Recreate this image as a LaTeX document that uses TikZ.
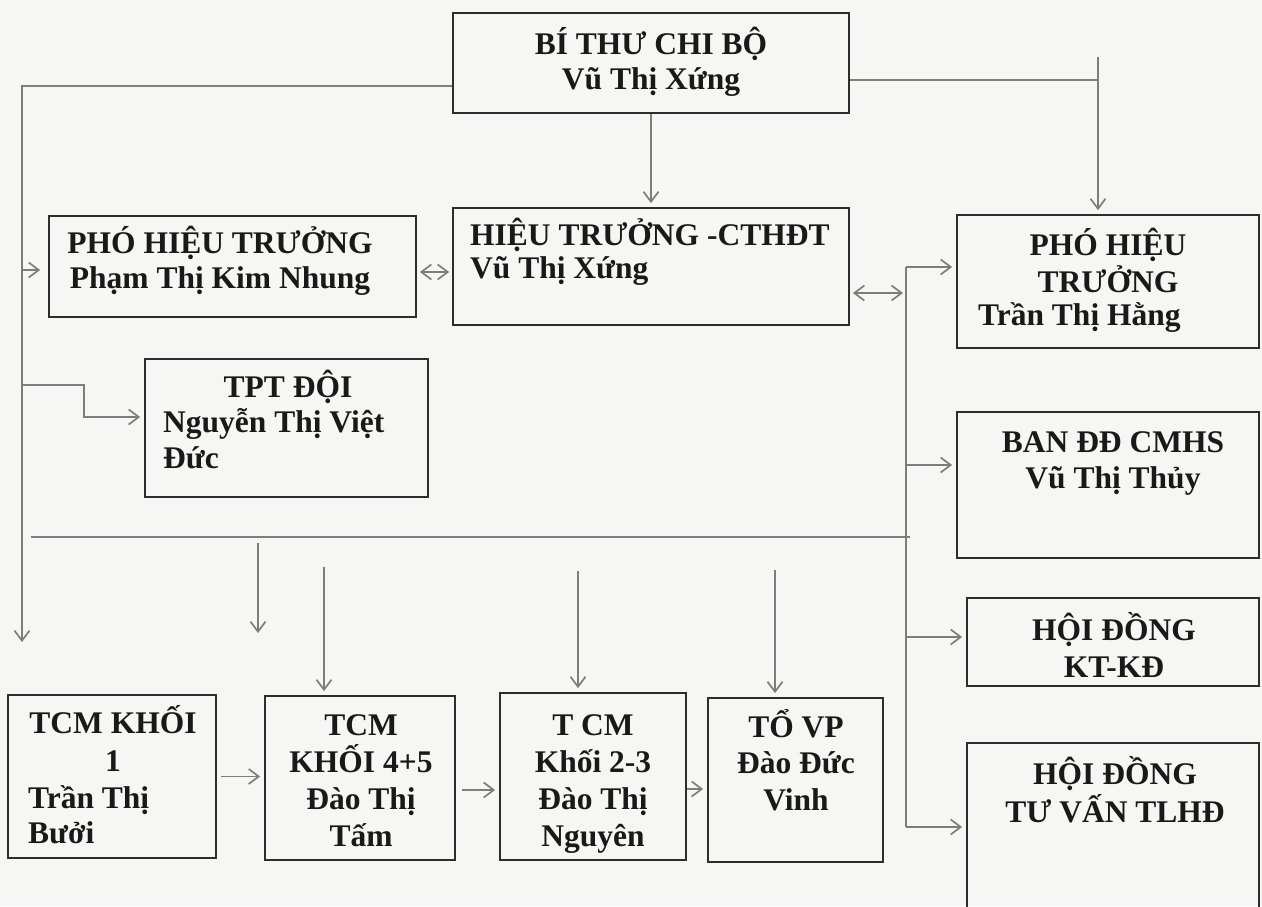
\documentclass[tikz,border=0pt]{standalone}
\usepackage{fontspec}
\setmainfont{Liberation Serif}
\usetikzlibrary{arrows.meta}
\definecolor{bg}{RGB}{246,246,244}
\definecolor{ln}{RGB}{125,125,125}
\definecolor{bx}{RGB}{45,45,45}
\definecolor{tx}{RGB}{25,25,25}
\newcommand{\mystrut}{\rule{0pt}{34pt}}
\newcommand{\nolsk}{\lineskiplimit=-100pt\relax}
\tikzset{
  box/.style={draw=bx, line width=1.8pt, inner sep=0pt},
  txt/.style={font=\bfseries\fontsize{31.5}{#1}\selectfont\nolsk, text=tx, inner sep=0pt, align=center, anchor=north},
  txt/.default=36,
  ltxt/.style={txt=#1, align=left, anchor=north west},
  ltxt/.default=36,
  line/.style={draw=ln, line width=1.7pt},
  tip/.tip={Straight Barb[length=10pt,width=15pt]},
  arr/.style={line, -tip, shorten >=4pt},
  darr/.style={line, tip-tip, shorten >=3pt, shorten <=3pt},
}
\begin{document}
\begin{tikzpicture}[x=1pt,y=-1pt]
\path[use as bounding box] (0,0) rectangle (1262,906);
\clip (0,0) rectangle (1262,906);
\fill[bg] (0,0) rectangle (1262,906);

% boxes
\node[box, minimum width=396pt, minimum height=100pt] (bithu) at (651,63) {};
\node[box, minimum width=396pt, minimum height=117pt] (htb) at (651,266.5) {};
\node[box, minimum width=367pt, minimum height=101pt] (phoL) at (232.5,266.5) {};
\node[box, minimum width=302pt, minimum height=133pt] (phoR) at (1108,281.5) {};
\node[box, minimum width=283pt, minimum height=138pt] (tpt) at (286.5,428) {};
\node[box, minimum width=302pt, minimum height=146pt] (ban) at (1108,485) {};
\node[box, minimum width=292pt, minimum height=88pt] (ktkd) at (1113,642) {};
\node[box, minimum width=292pt, minimum height=182pt] (tuvan) at (1113,834) {};
\node[box, minimum width=208pt, minimum height=163pt] (k1) at (112,776.5) {};
\node[box, minimum width=190pt, minimum height=164pt] (k45) at (360,778) {};
\node[box, minimum width=186pt, minimum height=167pt] (k23) at (593,776.5) {};
\node[box, minimum width=175pt, minimum height=164pt] (tovp) at (795.5,780) {};

% texts
\node[txt=35] (bithuT) at (651,20) {\mystrut BÍ THƯ CHI BỘ\\Vũ Thị Xứng};
\node[ltxt=33] (htbT) at (470,211) {\mystrut HIỆU TRƯỞNG -CTHĐT\\Vũ Thị Xứng};
\node[txt=35] (phoLT) at (220,219) {\mystrut PHÓ HIỆU TRƯỞNG\\Phạm Thị Kim Nhung};
\node[txt=37] (phoRT) at (1108,221) {\mystrut PHÓ HIỆU\\TRƯỞNG};
\node[ltxt] (phoRT2) at (978,291) {\mystrut Trần Thị Hằng};
\node[txt] (tptT) at (288,363) {\mystrut TPT ĐỘI};
\node[ltxt=36] (tptT2) at (163,398) {\mystrut Nguyễn Thị Việt\\Đức};
\node[txt=36] (banT) at (1113,418) {\mystrut BAN ĐĐ CMHS\\Vũ Thị Thủy};
\node[txt=37] (ktkdT) at (1114,606) {\mystrut HỘI ĐỒNG\\KT-KĐ};
\node[txt=38] (tuvanT) at (1115,750) {\mystrut HỘI ĐỒNG\\TƯ VẤN TLHĐ};
\node[txt=38] (k1T) at (113,699) {\mystrut TCM KHỐI\\1};
\node[ltxt=35] (k1T2) at (28,774) {\mystrut Trần Thị\\Bưởi};
\node[txt=37] (k45T) at (361,701) {\mystrut TCM\\KHỐI 4+5\\Đào Thị\\Tấm};
\node[txt=37] (k23T) at (593,701) {\mystrut T CM\\Khối 2-3\\Đào Thị\\Nguyên};
\node[txt=36.5] (tovpT) at (796,703) {\mystrut TỔ VP\\Đào Đức\\Vinh};

% coordinates
\coordinate (c1) at (22,86);
\coordinate (c1b) at (22,646);
\coordinate (c2) at (22,270);
\coordinate (c3) at (22,385);
\coordinate (c3b) at (84,417);
\coordinate (c5) at (1098,80);
\coordinate (c5top) at (1098,57);
\coordinate (r1) at (906,293);
\coordinate (rv1) at (906,267);
\coordinate (rv2) at (906,465);
\coordinate (rv3) at (906,637);
\coordinate (rv4) at (906,827);
\coordinate (h0) at (31,537);
\coordinate (h1) at (910,537);
\coordinate (d1) at (258,543);
\coordinate (d1e) at (258,637);
\coordinate (d2) at (324,567);
\coordinate (d3) at (578,571);
\coordinate (d4) at (775,570);

% connectors
\draw[arr] (bithu.west |- c1) -- (c1) -- (c1b);
\draw[arr, shorten >=8pt] (c2) -- (phoL.west |- c2);
\draw[arr] (c3) -| (c3b) -- (tpt.west |- c3b);
\draw[arr] (bithu.south) -- (htb.north);
\draw[line] (bithu.east |- c5) -- (c5);
\draw[arr] (c5top) -- (c5top |- phoR.north);
\draw[darr] ([yshift=-5.5pt]phoL.east) -- ([yshift=-5.5pt]htb.west);
\draw[darr] (htb.east |- r1) -- (r1);
\draw[line] (rv1) -- (rv4);
\draw[arr] (rv1) -- (phoR.west |- rv1);
\draw[arr] (rv2) -- (ban.west |- rv2);
\draw[arr] (rv3) -- (ktkd.west |- rv3);
\draw[arr] (rv4) -- (tuvan.west |- rv4);
\draw[line] (h0) -- (h1);
\draw[arr] (d1) -- (d1e);
\draw[arr] (d2) -- (d2 |- k45.north);
\draw[arr] (d3) -- (d3 |- k23.north);
\draw[arr] (d4) -- (d4 |- tovp.north);
\draw[arr, shorten <=4pt] (k1.east) -- (k45.west |- k1.east);
\draw[arr, shorten <=6pt] ([yshift=-12pt]k45.east) -- ([yshift=-12pt]k45.east -| k23.west);
\draw[arr] ([yshift=-12.5pt]k23.east) -- ([yshift=-12.5pt]k23.east -| tovp.west);
\end{tikzpicture}
\end{document}
